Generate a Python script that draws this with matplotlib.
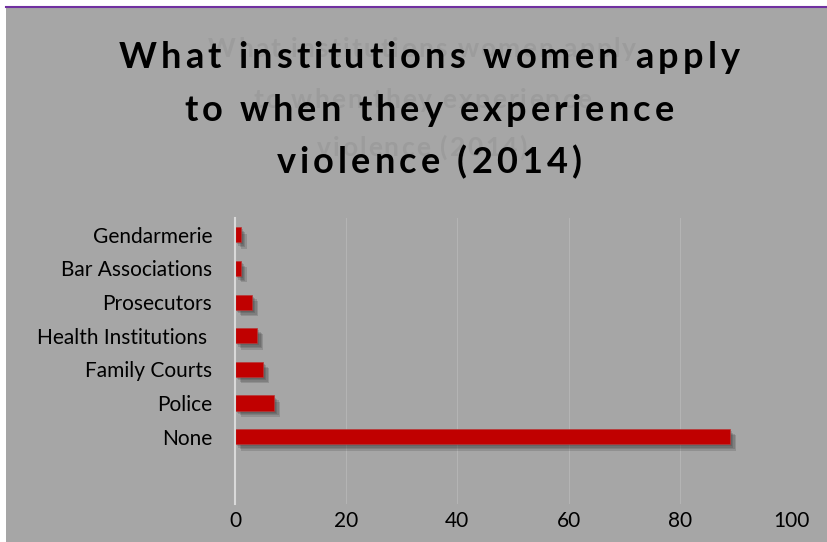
import matplotlib.pyplot as plt
import matplotlib.patheffects as pe
from matplotlib.patches import Rectangle
from matplotlib.lines import Line2D
from matplotlib.font_manager import FontProperties

# Datos
categorias = ['None', 'Police', 'Family Courts', 'Health Institutions ', 'Prosecutors',
              'Bar Associations', 'Gendarmerie']
valores = [89, 7, 5, 4, 3, 1, 1]
ticks_x = [0, 20, 40, 60, 80, 100]
titulo = ["What institutions women apply", "to when they experience", "violence (2014)"]

fondo = '#A6A6A6'
W, H = 827, 542

fig = plt.figure(figsize=(W / 100, H / 100), dpi=100)
fig.patch.set_facecolor('white')

# Fondo gris y linea morada superior
fig.patches.append(Rectangle((6 / W, 0), 1, 1 - 8 / H, transform=fig.transFigure,
                             facecolor=fondo, edgecolor='none', zorder=-10))
fig.lines.append(Line2D([6 / W, 1], [1 - 7 / H, 1 - 7 / H], transform=fig.transFigure,
                        color='#7030A0', linewidth=1.5))

ax = fig.add_axes([235 / W, 1 - 504 / H, 556 / W, 286 / H])
ax.set_facecolor(fondo)

y = list(range(len(categorias)))
barras = ax.barh(y, valores, height=0.45, color='#C00000', edgecolor='#B83838',
                 linewidth=0.5, zorder=3)
sombra = [pe.SimplePatchShadow(offset=(d, -d), shadow_rgbFace='#303030', alpha=0.18)
          for d in (4.5, 3.5, 2.5, 1.5)]
for b in barras:
    b.set_path_effects(sombra + [pe.Normal()])

ax.set_xlim(0, 100)
ax.set_ylim(-2, 6.5)
ax.set_xticks(ticks_x)
ax.set_yticks(y)
ax.set_yticklabels(categorias)
ax.tick_params(axis='y', length=0, pad=16.5, labelsize=15)
ax.tick_params(axis='x', length=0, pad=5, labelsize=15)
for lab in ax.get_xticklabels() + ax.get_yticklabels():
    lab.set_fontfamily('Lato')
    lab.set_color('black')

ax.grid(axis='x', color='#B4B4B4', linewidth=0.8, zorder=1)
for s in ['top', 'right', 'bottom']:
    ax.spines[s].set_visible(False)
ax.spines['left'].set_color('#D9D9D9')
ax.spines['left'].set_linewidth(1.5)
ax.spines['left'].set_zorder(4)

# Titulo con espaciado entre letras
renderer = fig.canvas.get_renderer()


def titulo_espaciado(lineas, xc, bases, size, ancho1, color):
    fp = FontProperties(family='Lato', weight='bold', size=size)

    def ancho(s):
        return renderer.get_text_width_height_descent(s, fp, ismath=False)[0]

    esp = (ancho1 - ancho(lineas[0])) / (len(lineas[0]) - 1)
    for linea, base in zip(lineas, bases):
        total = ancho(linea) + esp * (len(linea) - 1)
        x0 = xc - total / 2
        for i, ch in enumerate(linea):
            if ch == ' ':
                continue
            x = x0 + ancho(linea[:i]) + esp * i
            fig.text(x / W, 1 - base / H, ch, ha='left', va='baseline',
                     fontproperties=fp, color=color)


titulo_espaciado(titulo, 422, [57, 108, 156], 19, 428, '#9C9C9C')
titulo_espaciado(titulo, 429, [68, 121, 173], 26, 621, 'black')

fig.savefig('out.png', dpi=100)
